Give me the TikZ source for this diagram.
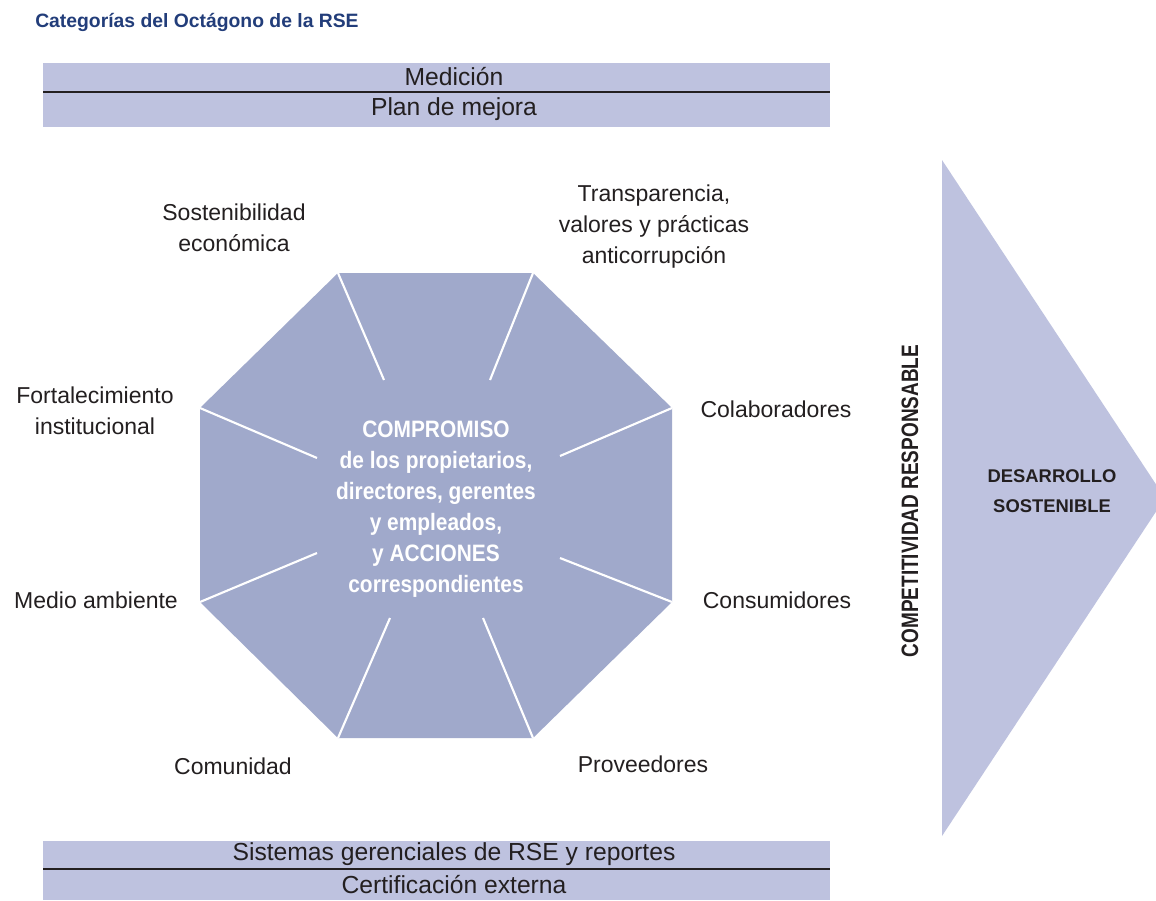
\documentclass[tikz,border=0pt]{standalone}
\usepackage{fontspec}
\setmainfont{Liberation Sans}
\newfontfamily\cbf[FakeStretch=0.88]{Liberation Sans}
\newfontfamily\vcond[FakeStretch=0.8]{Liberation Sans}
\definecolor{octfill}{HTML}{A0A9CB}
\definecolor{barfill}{HTML}{BEC2DF}
\definecolor{titleblue}{HTML}{223D7A}
\definecolor{ink}{HTML}{231F20}
\begin{document}
\begin{tikzpicture}[x=0.75pt,y=-0.75pt,
  lbl/.style={font=\fontsize{17.25pt}{23.25pt}\selectfont, text=ink, align=center, inner sep=0pt},
  bartext/.style={font=\fontsize{18.5pt}{22pt}\selectfont, text=ink, inner sep=0pt},
  spoke/.style={white, line width=1.6pt},
  sepline/.style={ink, line width=1.1pt}]
\useasboundingbox (0,0) rectangle (1156,900);
\fill[white] (0,0) rectangle (1156,900);
% title
\node[anchor=west, inner sep=0pt, text=titleblue, font=\fontsize{14.5pt}{17pt}\selectfont\bfseries] (title) at (35,22) {Categorías del Octágono de la RSE};
% top bars
\fill[barfill] (43,63) rectangle (830,127);
\coordinate (tl) at (43,92); \coordinate (tr) at (830,92);
\draw[sepline] (tl) -- (tr);
\node[bartext] (med) at (454,77) {Medición};
\node[bartext] (plan) at (454,109) {Plan de mejora};
% bottom bars
\fill[barfill] (43,841) rectangle (830,900);
\coordinate (bl) at (43,869); \coordinate (br) at (830,869);
\draw[sepline] (bl) -- (br);
\node[bartext] (sis) at (454,854) {Sistemas gerenciales de RSE y reportes};
\node[bartext] (cert) at (454,885) {Certificación externa};
% octagon
\coordinate (v1) at (338,273); \coordinate (v2) at (533,273);
\coordinate (v3) at (672,408); \coordinate (v4) at (672,602);
\coordinate (v5) at (533,738); \coordinate (v6) at (338,738);
\coordinate (v7) at (200,602); \coordinate (v8) at (200,408);
\fill[octfill] (v1) -- (v2) -- (v3) -- (v4) -- (v5) -- (v6) -- (v7) -- (v8) -- cycle;
\coordinate (i1) at (384,380); \coordinate (i2) at (490,380);
\coordinate (i3) at (560,456); \coordinate (i4) at (560,558);
\coordinate (i5) at (483,618); \coordinate (i6) at (390,618);
\coordinate (i7) at (317,553); \coordinate (i8) at (317,458);
\foreach \k in {1,...,8} \draw[spoke] (v\k) -- (i\k);
\node[align=center, text=white, inner sep=0pt, font=\fontsize{17.8pt}{23.25pt}\selectfont\cbf\bfseries] (core) at (436,509)
 {COMPROMISO\\de los propietarios,\\directores, gerentes\\y empleados,\\y ACCIONES\\correspondientes};
% labels
\node[lbl] (sost) at (234,228) {Sostenibilidad\\económica};
\node[lbl] (trans) at (654,227) {Transparencia,\\valores y prácticas\\anticorrupción};
\node[lbl] (fort) at (95,411) {Fortalecimiento\\institucional};
\node[lbl] (colab) at (776,409) {Colaboradores};
\node[lbl] (medio) at (96,600) {Medio ambiente};
\node[lbl] (cons) at (777,600) {Consumidores};
\node[lbl] (comu) at (233,766) {Comunidad};
\node[lbl] (prov) at (643,764) {Proveedores};
% arrow
\fill[barfill] (942,160) -- (1165,498) -- (942,836) -- cycle;
\node[rotate=90, text=ink, inner sep=0pt, font=\fontsize{17.8pt}{20pt}\selectfont\vcond\bfseries] (comp) at (910,501) {COMPETITIVIDAD RESPONSABLE};
\node[align=center, text=ink, inner sep=0pt, font=\fontsize{13.8pt}{22.5pt}\selectfont\bfseries] (des) at (1052,491) {DESARROLLO\\SOSTENIBLE};
\end{tikzpicture}
\end{document}
